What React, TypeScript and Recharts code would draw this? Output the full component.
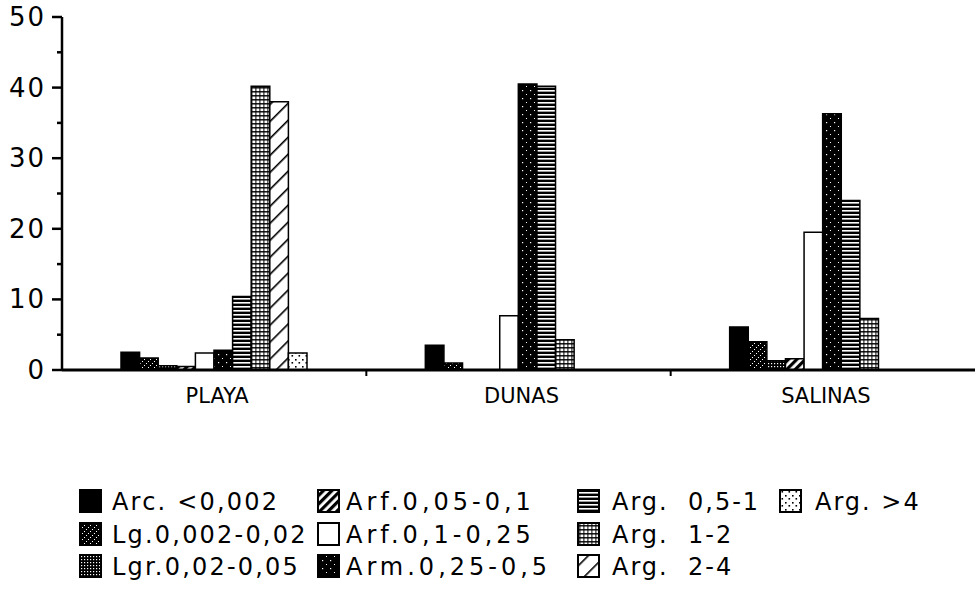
import React from 'react'
import { BarChart, Bar, XAxis, YAxis } from 'recharts'

const categories = ['PLAYA', 'DUNAS', 'SALINAS']

const arc = [2.5, 3.5, 6.1]
const lg = [1.7, 1.0, 4.0]
const lgr = [0.6, 0, 1.3]
const arf005 = [0.5, 0, 1.6]
const arf01 = [2.4, 7.7, 19.5]
const arm = [2.8, 40.5, 36.3]
const arg051 = [10.4, 40.2, 24.0]
const arg12 = [40.2, 4.3, 7.3]
const arg24 = [38.0, 0, 0]
const arg4 = [2.4, 0, 0]

const seriesNames = [
  'Arc. <0,002',
  'Lg.0,002-0,02',
  'Lgr.0,02-0,05',
  'Arf.0,05-0,1',
  'Arf.0,1-0,25',
  'Arm.0,25-0,5',
  'Arg.  0,5-1',
  'Arg.  1-2',
  'Arg.  2-4',
  'Arg. >4',
]
const seriesValues = [arc, lg, lgr, arf005, arf01, arm, arg051, arg12, arg24, arg4]
const seriesKeys = ['arc', 'lg', 'lgr', 'arf005', 'arf01', 'arm', 'arg051', 'arg12', 'arg24', 'arg4']

const yTicks = [0, 5, 10, 15, 20, 25, 30, 35, 40, 45, 50]

const data = categories.map((name, i) => {
  const row: any = { name }
  seriesKeys.forEach((k, s) => (row[k] = seriesValues[s][i]))
  return row
})

const FONT = '"DejaVu Sans", Verdana, sans-serif'

// fill patterns, one per series (id prefix so chart and legend each get their own copy)
function patterns(p: string) {
  return [
    <pattern key="lg" id={`${p}-lg`} patternUnits="userSpaceOnUse" width="6" height="6">
      <rect width="6" height="6" fill="#000" />
      <rect x="0" y="5" width="1" height="1" fill="#fff" />
      <rect x="2" y="3" width="1" height="1" fill="#fff" />
      <rect x="4" y="1" width="1" height="1" fill="#fff" />
    </pattern>,
    <pattern key="lgr" id={`${p}-lgr`} patternUnits="userSpaceOnUse" width="3" height="3">
      <rect width="3" height="3" fill="#000" />
      <rect x="0" y="0" width="1.2" height="1.2" fill="#fff" />
    </pattern>,
    <pattern key="arf005" id={`${p}-arf005`} patternUnits="userSpaceOnUse" width="6" height="6" patternTransform="rotate(45)">
      <rect width="6" height="6" fill="#fff" />
      <rect x="0" y="0" width="3.2" height="6" fill="#000" />
    </pattern>,
    <pattern key="arm" id={`${p}-arm`} patternUnits="userSpaceOnUse" width="8" height="8">
      <rect width="8" height="8" fill="#000" />
      <rect x="2" y="2" width="1.2" height="1.2" fill="#fff" />
      <rect x="6" y="6" width="1" height="1" fill="#fff" />
    </pattern>,
    <pattern key="arg051" id={`${p}-arg051`} patternUnits="userSpaceOnUse" width="8" height="4">
      <rect width="8" height="4" fill="#000" />
      <rect x="0" y="2" width="8" height="1.6" fill="#fff" />
    </pattern>,
    <pattern key="arg12" id={`${p}-arg12`} patternUnits="userSpaceOnUse" width="4" height="4">
      <rect width="4" height="4" fill="#000" />
      <rect x="0.4" y="0.5" width="3" height="2.6" fill="#fff" />
    </pattern>,
    <pattern key="arg24" id={`${p}-arg24`} patternUnits="userSpaceOnUse" width="12" height="12" patternTransform="rotate(45)">
      <rect width="12" height="12" fill="#fff" />
      <rect x="0" y="0" width="1.6" height="12" fill="#000" />
    </pattern>,
    <pattern key="arg4" id={`${p}-arg4`} patternUnits="userSpaceOnUse" width="7" height="7">
      <rect width="7" height="7" fill="#fff" />
      <rect x="1" y="2" width="1.6" height="1.6" fill="#000" />
      <rect x="4.5" y="5" width="1.6" height="1.6" fill="#000" />
    </pattern>,
  ]
}

function fillFor(p: string, key: string) {
  if (key === 'arc') return '#000'
  if (key === 'arf01') return '#fff'
  return `url(#${p}-${key})`
}

const YTick = (props: any) => {
  const { x, y, payload } = props
  const major = payload.value % 10 === 0
  return (
    <g>
      <line x1={x - (major ? 10 : 5)} y1={y} x2={x} y2={y} stroke="#000" strokeWidth={2.5} />
      {major && (
        <text x={x - 16} y={y} dy={9} textAnchor="end" fontFamily={FONT} fontSize={26} letterSpacing={2} fill="#000">
          {payload.value}
        </text>
      )}
    </g>
  )
}

const XTick = (props: any) => {
  const { x, y, payload, index } = props
  const half = payload.offset ?? 152
  return (
    <g>
      {index < categories.length - 1 && (
        <line x1={x + half} y1={y} x2={x + half} y2={y + 6} stroke="#000" strokeWidth={2} />
      )}
      <text x={x + 3} y={y + 33} textAnchor="middle" fontFamily={FONT} fontSize={21} fill="#000">
        {payload.value}
      </text>
    </g>
  )
}

// legend: 4 columns, filled top to bottom
const legendCols = [80, 318, 578, 780]
const legendTextX = [112, 346, 612, 815]
const legendSpacing = [2.2, 4, 2, 2]
const legendRows = [490, 523, 555]

export default function App() {
  return (
    <div style={{ position: 'absolute', left: 0, top: 0, width: 980, height: 592, background: '#fff' }}>
      <BarChart
        width={980}
        height={430}
        data={data}
        margin={{ top: 17, right: 5, left: 0, bottom: 0 }}
        barGap={0}
        barSize={18.6}
      >
        <defs>{patterns('c')}</defs>
        <YAxis
          width={62}
          domain={[0, 50]}
          ticks={yTicks}
          interval={0}
          tickLine={false}
          tickSize={0}
          tickMargin={0}
          axisLine={{ stroke: '#000', strokeWidth: 2.5 }}
          tick={<YTick />}
        />
        <XAxis
          dataKey="name"
          height={60}
          tickLine={false}
          tickSize={0}
          tickMargin={0}
          interval={0}
          axisLine={{ stroke: '#000', strokeWidth: 3 }}
          tick={<XTick />}
        />
        {seriesKeys.map((k, s) => (
          <Bar
            key={k}
            dataKey={k}
            name={seriesNames[s]}
            fill={fillFor('c', k)}
            stroke="#000"
            strokeWidth={1.5}
            isAnimationActive={false}
          />
        ))}
      </BarChart>
      <svg width={980} height={162} style={{ position: 'absolute', left: 0, top: 430 }}>
        <defs>{patterns('l')}</defs>
        {seriesKeys.map((k, s) => {
          const col = Math.floor(s / 3)
          const row = s % 3
          const y = legendRows[row] - 430
          return (
            <g key={k}>
              <rect
                x={legendCols[col]}
                y={y}
                width={21}
                height={22}
                fill={fillFor('l', k)}
                stroke="#000"
                strokeWidth={2}
              />
              <text
                x={legendTextX[col]}
                y={y + 20}
                fontFamily={FONT}
                fontSize={24}
                letterSpacing={legendSpacing[col]}
                fill="#000"
                style={{ whiteSpace: 'pre' }}
              >
                {seriesNames[s]}
              </text>
            </g>
          )
        })}
      </svg>
    </div>
  )
}
